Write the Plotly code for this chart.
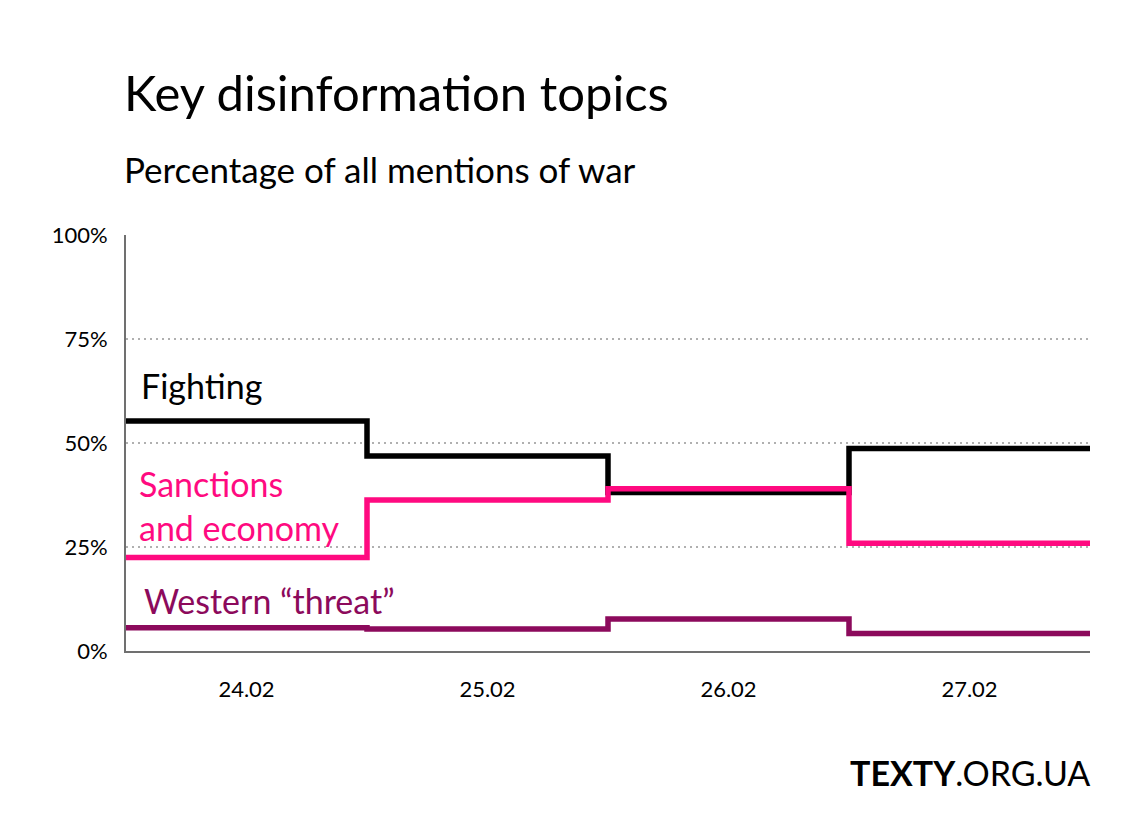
"""Key disinformation topics: step chart of topic share per day."""
import plotly.graph_objects as go

_FONT = "Lato, 'Open Sans', sans-serif"
_BLACK = "#000000"
_PINK = "#ff0a80"
_PURPLE = "#8c0a5c"
_GRID = "#b0b0b0"
_AXIS = "#707070"

days = ["24.02", "25.02", "26.02", "27.02"]
fighting = [55.3, 46.9, 38.1, 48.7]
sanctions = [22.5, 36.3, 39.0, 25.9]
western = [5.6, 5.3, 7.7, 4.2]
y_ticks = [0, 25, 50, 75, 100]

series = [
    ("Fighting", fighting, _BLACK),
    ("Sanctions and economy", sanctions, _PINK),
    ("Western “threat”", western, _PURPLE),
]

# step edges: each day covers [i - 0.5, i + 0.5]
edges = [i - 0.5 for i in range(len(days) + 1)]

W, H = 1105, 820
M = dict(l=118, r=23, t=226.5, b=176.5)
plot_w = W - M["l"] - M["r"]
plot_h = H - M["t"] - M["b"]

fig = go.Figure()
for name, vals, color in series:
    fig.add_trace(go.Scatter(
        x=edges, y=vals + [vals[-1]],
        mode="lines", name=name, line_shape="hv",
        line=dict(color=color, width=5.5),
        hoverinfo="skip",
    ))

# inline series labels: (text, y in %, colour, x shift)
labels = [
    ("Fighting", 63.8, _BLACK, 13),
    ("Sanctions<br>and economy", 35.0, _PINK, 11),
    ("Western “threat”", 12.1, _PURPLE, 16),
]
for text, ypos, color, dx in labels:
    fig.add_annotation(
        x=-0.5, y=ypos, xref="x", yref="y",
        text=text, showarrow=False, xanchor="left", yanchor="middle",
        xshift=dx, align="left",
        font=dict(family=_FONT, size=34, color=color),
    )

# header and footer, placed relative to the plot area
fig.add_annotation(
    x=(114 - M["l"]) / plot_w, y=1 + (M["t"] - 83) / plot_h,
    xref="paper", yref="paper",
    text="Key disinformation topics", showarrow=False,
    xanchor="left", yanchor="middle",
    font=dict(family=_FONT, size=49, color=_BLACK),
)
fig.add_annotation(
    x=(114 - M["l"]) / plot_w, y=1 + (M["t"] - 160) / plot_h,
    xref="paper", yref="paper",
    text="Percentage of all mentions of war", showarrow=False,
    xanchor="left", yanchor="middle",
    font=dict(family=_FONT, size=35, color=_BLACK),
)
fig.add_annotation(
    x=1, y=-(765 - (H - M["b"])) / plot_h, xref="paper", yref="paper",
    text="<b>TEXTY</b>.ORG.UA", showarrow=False,
    xanchor="right", yanchor="middle", xshift=2,
    font=dict(family=_FONT, size=34, color=_BLACK),
)

fig.update_layout(
    width=W, height=H,
    paper_bgcolor="white", plot_bgcolor="white",
    margin=M,
    showlegend=False,
    font=dict(family=_FONT, color=_BLACK),
)
fig.update_xaxes(
    range=[-0.5, 3.5], tickvals=list(range(len(days))), ticktext=days,
    showgrid=False, zeroline=False,
    showline=True, linecolor=_AXIS, linewidth=2,
    ticks="", ticklabelstandoff=18,
    tickfont=dict(family=_FONT, size=22, color=_BLACK),
)
fig.update_yaxes(
    range=[0, 100], tickvals=y_ticks, ticktext=[f"{v}%" for v in y_ticks],
    showgrid=True, gridcolor=_GRID, griddash="2px,4px", gridwidth=1.5,
    zeroline=False, showline=True, linecolor=_AXIS, linewidth=2,
    ticks="", ticklabelstandoff=12,
    tickfont=dict(family=_FONT, size=22, color=_BLACK),
)

fig.write_html("out.html")
